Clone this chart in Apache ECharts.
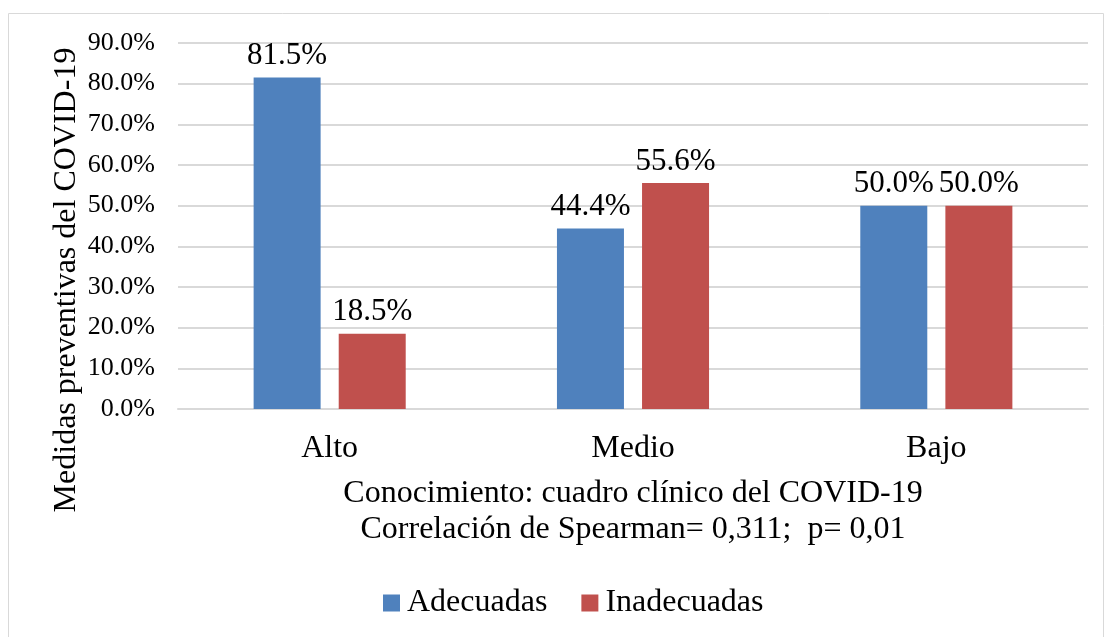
<!DOCTYPE html>
<html>
<head>
<meta charset="utf-8">
<script src="https://cdn.jsdelivr.net/npm/echarts@6/dist/echarts.min.js"></script>
<style>
  html, body { margin: 0; padding: 0; background: #fff; }
  #main { width: 1105px; height: 637px; }
</style>
</head>
<body>
<div id="main"></div>
<script>
var chart = echarts.init(document.getElementById('main'));

// datos
var categorias = ['Alto', 'Medio', 'Bajo'];
var adecuadas = [81.5, 44.4, 50.0];
var inadecuadas = [18.5, 55.6, 50.0];

var fuente = '"Liberation Serif", "Times New Roman", serif';

var etiqueta = {
  show: true,
  position: 'top',
  distance: 6,
  fontFamily: fuente,
  fontSize: 31,
  color: '#000',
  formatter: function (p) { return p.value.toFixed(1) + '%'; }
};

var option = {
  animation: false,
  textStyle: { fontFamily: fuente },
  graphic: [{
    type: 'rect',
    shape: { x: 8.5, y: 13.5, width: 1095, height: 640 },
    style: { fill: 'none', stroke: '#d9d9d9', lineWidth: 1 },
    silent: true
  }, {
    type: 'text',
    x: 67,
    y: 280,
    rotation: Math.PI / 2,
    style: {
      text: 'Medidas preventivas del COVID-19',
      font: '32px ' + fuente,
      fill: '#000',
      align: 'center',
      verticalAlign: 'middle'
    }
  }],
  grid: { left: 178, right: 17, top: 43, bottom: 228 },
  legend: {
    bottom: 13,
    left: 378,
    itemWidth: 17,
    itemHeight: 17,
    itemGap: 34,
    icon: 'rect',
    textStyle: { fontFamily: fuente, fontSize: 32, color: '#000', padding: [0, 0, 0, 2] },
    data: ['Adecuadas', 'Inadecuadas']
  },
  xAxis: {
    type: 'category',
    data: categorias,
    axisLine: { lineStyle: { color: '#d9d9d9', width: 2 } },
    axisTick: { show: false },
    axisLabel: { fontFamily: fuente, fontSize: 32, color: '#000', margin: 24 },
    name: 'Conocimiento: cuadro clínico del COVID-19\nCorrelación de Spearman= 0,311;  p= 0,01',
    nameLocation: 'middle',
    nameGap: 67,
    nameTextStyle: { fontFamily: fuente, fontSize: 32, color: '#000', lineHeight: 36, verticalAlign: 'top' }
  },
  yAxis: {
    type: 'value',
    min: 0,
    max: 90,
    interval: 10,
    axisLine: { show: false },
    axisTick: { show: false },
    splitLine: { lineStyle: { color: '#d9d9d9', width: 2 } },
    axisLabel: {
      fontFamily: fuente,
      fontSize: 26,
      color: '#000',
      margin: 23,
      formatter: function (v) { return v.toFixed(1) + '%'; }
    }
  },
  series: [{
    name: 'Adecuadas',
    type: 'bar',
    data: adecuadas,
    barWidth: 67,
    barGap: '27%',
    itemStyle: { color: '#4f81bd' },
    label: etiqueta
  }, {
    name: 'Inadecuadas',
    type: 'bar',
    data: inadecuadas,
    barWidth: 67,
    itemStyle: { color: '#c0504d' },
    label: etiqueta
  }]
};

chart.setOption(option);
</script>
</body>
</html>
